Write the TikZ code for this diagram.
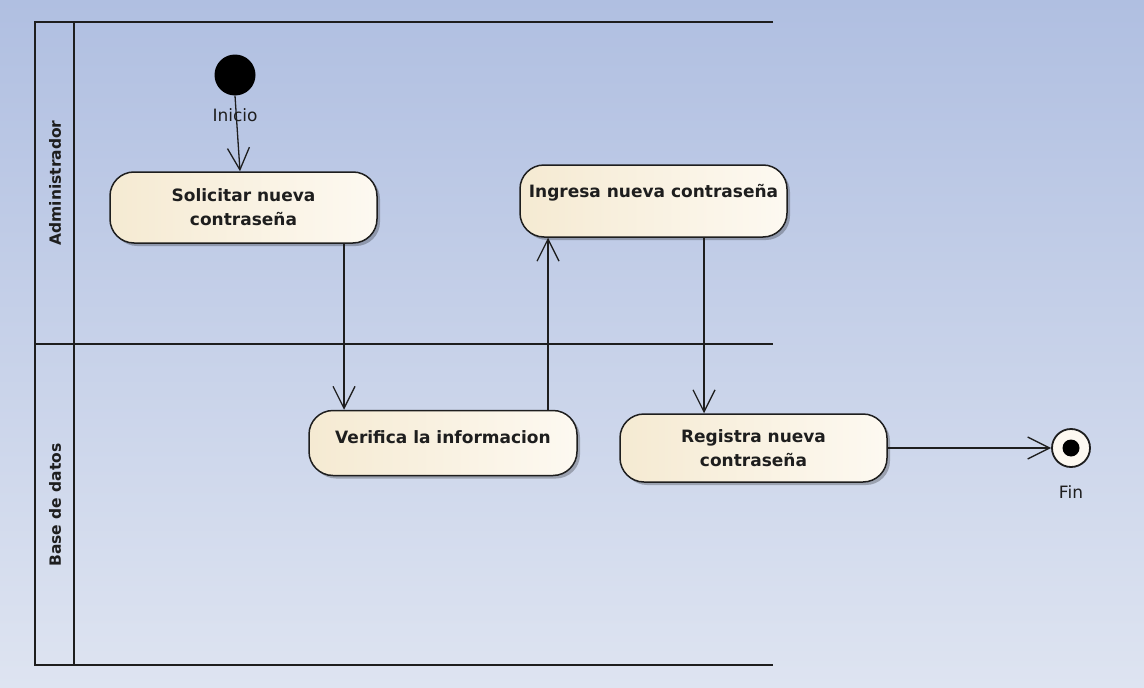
\documentclass[tikz,border=0pt]{standalone}
\usepackage{fontspec}
\setmainfont{DejaVu Sans}
\usetikzlibrary{arrows.meta,shadows}
\definecolor{bgtop}{RGB}{176,191,225}
\definecolor{bgbot}{RGB}{222,228,241}
\definecolor{actL}{RGB}{245,234,210}
\definecolor{actR}{RGB}{253,249,241}
\definecolor{ink}{RGB}{30,30,30}
\begin{document}
\begin{tikzpicture}[x=1pt,y=-1pt,
  lane/.style={draw=ink,line width=1.8pt},
  act/.style={draw=ink,line width=1.5pt,rounded corners=24pt,left color=actL,right color=actR,
    drop shadow={shadow xshift=3pt,shadow yshift=-3pt,opacity=0.25,fill=black},
    align=center,inner sep=0pt,font=\fontsize{17}{24}\selectfont\bfseries,text=ink},
  flow/.style={draw=ink,line width=1.3pt,-{Straight Barb[length=22pt,width=22pt,line width=1.3pt]}},
  lbl/.style={font=\fontsize{17}{20}\selectfont,text=ink},
  lanelbl/.style={font=\fontsize{15.5}{20}\selectfont\bfseries,text=ink,rotate=90}]
\useasboundingbox (0,0) rectangle (1144,688);
\shade[top color=bgtop,bottom color=bgbot] (0,0) rectangle (1144,688);
% swimlanes
\draw[lane] (773,22) -- (35,22) -- (35,665) -- (773,665);
\draw[lane] (74,22) -- (74,665);
\draw[lane] (35,344) -- (773,344);
\node[lanelbl] (la) at (55,183) {Administrador};
\node[lanelbl] (lb) at (55,505) {Base de datos};
% start / end
\node[circle,fill=black,minimum size=41pt,inner sep=0pt] (start) at (235,75) {};
\node[lbl] (inicio) at (235,115) {Inicio};
\node[circle,draw=ink,line width=1.8pt,fill=actR,minimum size=38pt,inner sep=0pt] (fin) at (1071,448) {};
\node[circle,fill=black,minimum size=17pt,inner sep=0pt] (finin) at (fin) {};
\node[lbl] (finlbl) at (1071,492) {Fin};
% activities
\node[act,minimum width=267pt,minimum height=71pt] (sol) at (243.5,207.5) {Solicitar nueva\\contraseña};
\node[act,minimum width=268pt,minimum height=65pt] (ver) at (443,443) {\raisebox{12pt}{Verifica la informacion}};
\node[act,minimum width=267pt,minimum height=72pt] (ing) at (653.5,201) {\raisebox{20pt}{Ingresa nueva contraseña}};
\node[act,minimum width=267pt,minimum height=68pt] (reg) at (753.5,448) {Registra nueva\\contraseña};
% flows
\draw[flow] (start.south) -- ([xshift=-3.5pt]sol.north);
\draw[flow] ([xshift=100.5pt]sol.south) -- ([xshift=-99pt]ver.north);
\draw[flow] ([xshift=105pt]ver.north) -- ([xshift=-105.5pt]ing.south);
\draw[flow] ([xshift=50.5pt]ing.south) -- ([xshift=-49.5pt]reg.north);
\draw[flow] (reg.east) -- (fin.west);
\end{tikzpicture}
\end{document}
